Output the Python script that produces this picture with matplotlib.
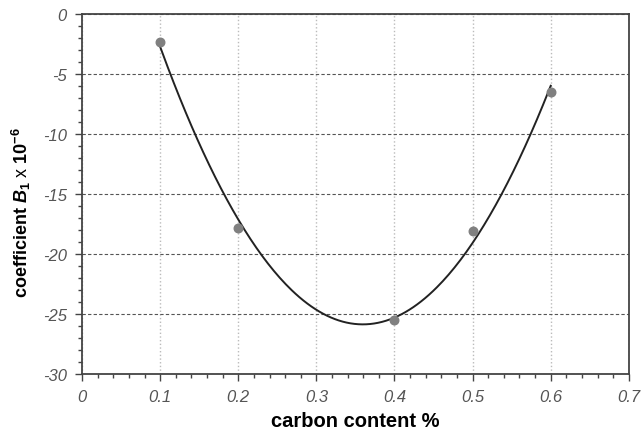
import numpy as np
import matplotlib.pyplot as plt
from matplotlib.ticker import MultipleLocator

carbon = [0.1, 0.2, 0.4, 0.5, 0.6]
coef_b1 = [-2.3, -17.8, -25.5, -18.1, -6.5]

plt.rcParams['font.family'] = ['Liberation Sans', 'DejaVu Sans']
plt.rcParams['axes.unicode_minus'] = False
plt.rcParams['mathtext.fontset'] = 'custom'
plt.rcParams['mathtext.rm'] = 'Liberation Sans'
plt.rcParams['mathtext.it'] = 'Liberation Sans:italic'
plt.rcParams['mathtext.bf'] = 'Liberation Sans:bold'
plt.rcParams['mathtext.bfit'] = 'Liberation Sans:bold:italic'

fig = plt.figure(figsize=(6.41, 4.31), dpi=100)
ax = fig.add_axes([0.128, 0.130, 0.853, 0.835])

# second order trend line through the measured points
p = np.polyfit(carbon, coef_b1, 2)
xs = np.linspace(min(carbon), max(carbon), 200)
ax.plot(xs, np.polyval(p, xs), color='#222222', lw=1.4, zorder=3)
ax.scatter(carbon, coef_b1, s=38, color='#808080', zorder=4)

ax.set_xlim(0, 0.7)
ax.set_ylim(-30, 0)
ax.xaxis.set_major_locator(MultipleLocator(0.1))
ax.xaxis.set_minor_locator(MultipleLocator(0.02))
ax.yaxis.set_major_locator(MultipleLocator(5))
ax.yaxis.set_minor_locator(MultipleLocator(1))

ax.grid(axis='x', color='#bbbbbb', ls=':', lw=1.0)
ax.grid(axis='y', color='#555555', ls=(0, (3, 2)), lw=0.8)

for s in ax.spines.values():
    s.set_color('#444444')
    s.set_linewidth(1.3)

ax.tick_params(which='both', direction='out', color='#444444', width=1.0)
ax.tick_params(which='major', length=5, labelsize=12, labelcolor='#555555', pad=6)
ax.tick_params(which='minor', length=3)
ax.set_xticklabels([f'{v:g}' for v in ax.get_xticks()], style='italic')
ax.set_yticklabels([f'{v:g}' for v in ax.get_yticks()], style='italic')

ax.set_xlabel('carbon content %', fontsize=14.5, fontweight='bold', labelpad=5)
ax.set_ylabel(r'coefficient $\mathbfit{B}_\mathbf{1}$ $\mathrm{x}$ 10$^{\mathbf{-6}}$',
              fontsize=13, fontweight='bold')
ax.yaxis.set_label_coords(-0.09, 0.45)

fig.savefig('out.png', dpi=100)
